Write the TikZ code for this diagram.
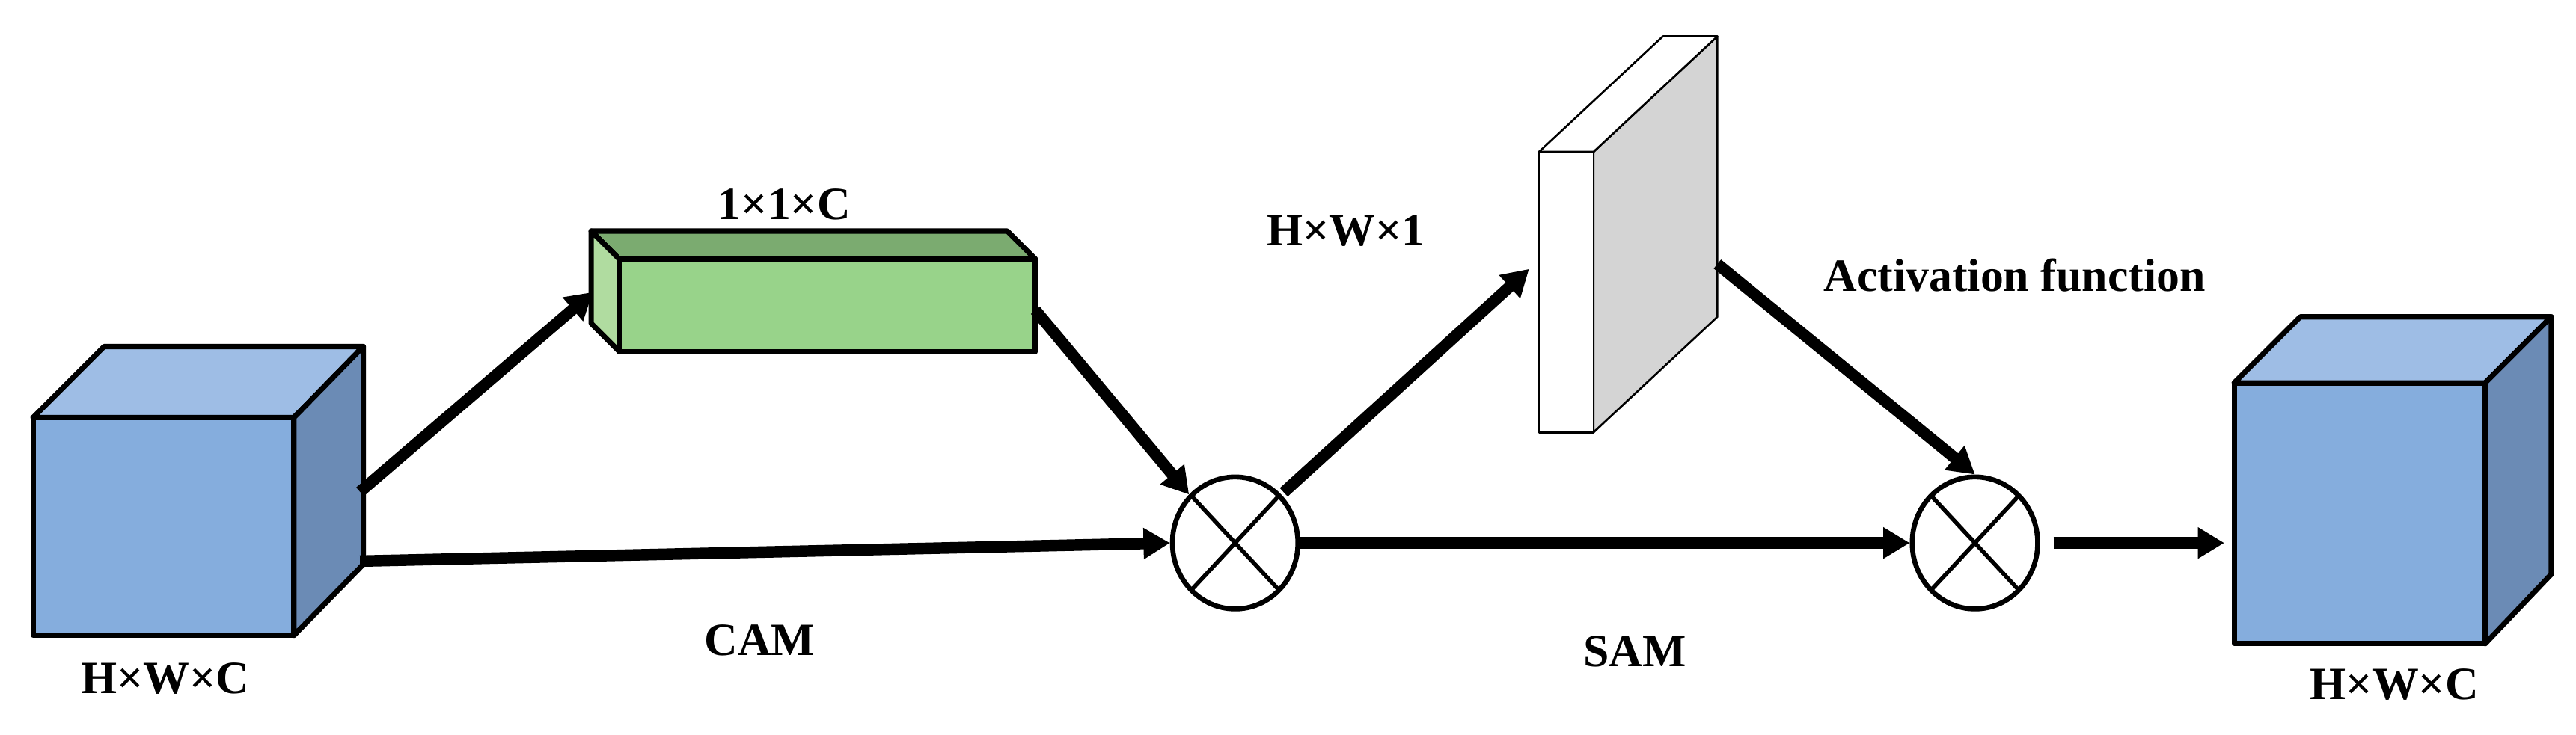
\documentclass[tikz,border=0pt]{standalone}
\usepackage{fontspec}
\setmainfont{Liberation Serif}
\usetikzlibrary{arrows.meta,shapes.geometric}
\definecolor{bfront}{HTML}{85ADDD}
\definecolor{btop}{HTML}{9EBDE5}
\definecolor{bside}{HTML}{6B8BB5}
\definecolor{gfront}{HTML}{98D38A}
\definecolor{gtop}{HTML}{7BAB70}
\definecolor{gside}{HTML}{B0DCA0}
\definecolor{pside}{HTML}{D4D4D4}
\begin{document}
\begin{tikzpicture}[x=1pt,y=-1pt,
  box/.style={draw=black,line width=3.2pt,line join=round},
  pan/.style={draw=black,line width=1.2pt,line join=round},
  arr/.style={line width=7pt,-{Triangle[length=16pt,width=18pt]}},
  mul/.style={draw,line width=3pt,ellipse,minimum width=76pt,minimum height=80pt,inner sep=0pt},
  lab/.style={font=\fontsize{28}{30}\selectfont\bfseries,inner sep=0pt}]
\useasboundingbox (0,0) rectangle (1560,445);
% left cube
\draw[box,fill=bfront] (20,253) rectangle (178,385);
\draw[box,fill=btop] (20,253) -- (63,210) -- (220,210) -- (178,253) -- cycle;
\draw[box,fill=bside] (178,253) -- (220,210) -- (220,342) -- (178,385) -- cycle;
\coordinate (c1a) at (218,298);
\coordinate (c1b) at (218,340);
% green box
\draw[box,fill=gfront] (375,157) rectangle (627,213);
\draw[box,fill=gtop] (375,157) -- (358,140) -- (610,140) -- (627,157) -- cycle;
\draw[box,fill=gside] (375,157) -- (358,140) -- (358,196) -- (375,213) -- cycle;
\coordinate (gl) at (359,177);
\coordinate (gr) at (627,188);
% panel
\draw[pan,fill=pside] (965,92) -- (1040,22) -- (1040,192) -- (965,262) -- cycle;
\draw[pan,fill=white] (932,92) -- (1007,22) -- (1040,22) -- (965,92) -- cycle;
\draw[pan,fill=white] (932,92) rectangle (965,262);
\coordinate (pl) at (926,163);
\coordinate (pr) at (1040,160);
% right cube
\draw[box,fill=bfront] (1353,232) rectangle (1505,390);
\draw[box,fill=btop] (1353,232) -- (1393,192) -- (1545,192) -- (1505,232) -- cycle;
\draw[box,fill=bside] (1505,232) -- (1545,192) -- (1545,348) -- (1505,390) -- cycle;
\coordinate (c2) at (1347,329);
% multipliers
\node[mul] (m1) at (748,329) {};
\node[mul] (m2) at (1196,329) {};
\foreach \m in {m1,m2}{
  \draw[line width=2.5pt] (\m) ++(-26,-28) -- ++(52,56);
  \draw[line width=2.5pt] (\m) ++(26,-28) -- ++(-52,56);
}
% connectors
\draw[arr] (c1a) -- (gl);
\draw[arr] (c1b) -- (m1.west);
\draw[arr] (gr) -- (m1.north west);
\draw[arr,shorten <=2pt] (m1.north east) -- (pl);
\draw[arr] (m1.east) -- (m2.west);
\draw[arr] (pr) -- (m2.north);
\draw[arr,shorten <=8pt] (m2.east) -- (c2);
% labels
\node[lab] (t1) at (475,124) {1×1×C};
\node[lab] (t2) at (100,411) {H×W×C};
\node[lab] (t3) at (460,388) {CAM};
\node[lab] (t4) at (815,140) {H×W×1};
\node[lab] (t5) at (1220,167) {Activation function};
\node[lab] (t6) at (990,395) {SAM};
\node[lab] (t7) at (1450,415) {H×W×C};
\end{tikzpicture}
\end{document}
